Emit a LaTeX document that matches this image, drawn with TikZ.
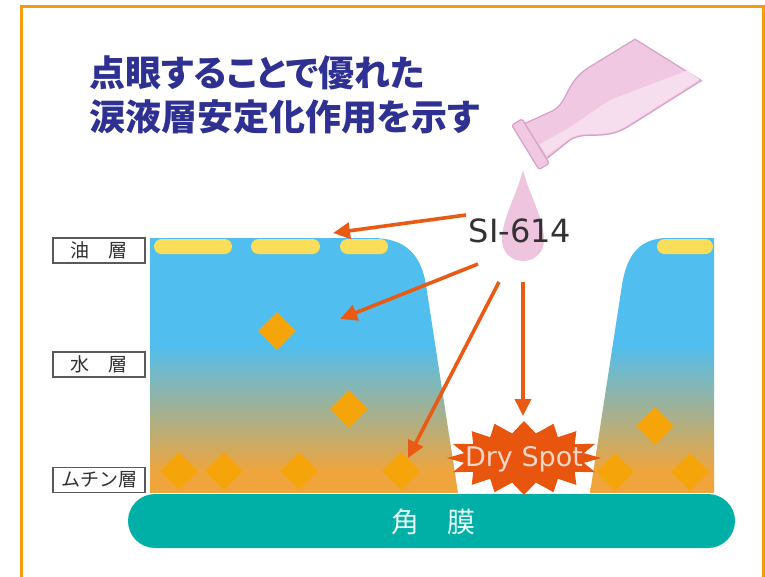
\documentclass[tikz,border=0pt]{standalone}
\usepackage{fontspec}
\setmainfont{DejaVu Sans}
\newfontfamily\jp{Noto Sans CJK JP}
\newfontfamily\jptitle{Noto Sans CJK JP}[RawFeature=+palt]
\newfontfamily\lat{DejaVu Sans}
\usetikzlibrary{arrows.meta,shapes.geometric}

\definecolor{framec}{RGB}{247,156,10}
\definecolor{titlec}{RGB}{46,49,146}
\definecolor{txt}{RGB}{50,50,50}
\definecolor{filmblue}{RGB}{80,190,238}
\definecolor{filmorange}{RGB}{240,165,60}
\definecolor{lipid}{RGB}{250,222,90}
\definecolor{mucin}{RGB}{245,165,10}
\definecolor{corneac}{RGB}{0,176,166}
\definecolor{arrowc}{RGB}{233,90,20}
\definecolor{burstc}{RGB}{232,85,15}
\definecolor{burstt}{RGB}{248,215,200}
\definecolor{bottlec}{RGB}{240,200,225}
\definecolor{bottlel}{RGB}{247,222,238}
\definecolor{bottled}{RGB}{215,160,200}
\definecolor{dropc}{RGB}{238,196,222}

% tear film: blue aqueous layer fading into the orange mucin layer
\pgfdeclareverticalshading{tearfilm}{100bp}{color(0bp)=(filmorange); color(29bp)=(filmorange); color(54bp)=(filmblue); color(100bp)=(filmblue)}

\tikzset{
  lab/.style={draw={rgb,255:red,90;green,90;blue,90}, line width=1.2, fill=white,
    minimum width=92, minimum height=25, inner sep=0, text=txt,
    font=\jp\fontsize{19}{19}\selectfont},
  titletext/.style={anchor=west, inner sep=0, text=titlec,
    font=\jptitle\bfseries\fontsize{36}{36}\selectfont},
  pill/.style={fill=lipid, rounded corners=7.5},
  gem/.style={diamond, fill=mucin, inner sep=0, minimum width=38, minimum height=38},
  ptr/.style={draw=arrowc, line width=3.6, -{Triangle[length=17,width=16]}},
  bottle/.style={fill=bottlec, draw=bottled, line width=1.2, line join=round},
}

\begin{document}
\begin{tikzpicture}[x=1pt,y=-1pt]
\useasboundingbox (0,0) rectangle (765,576);
\fill[white] (0,0) rectangle (765,576);

% outer frame
\draw[framec, line width=3] (21,6.5) rectangle (763,600);

% title
\node[titletext] (t1) at (89,72.5) {点眼することで優れた};
\node[titletext] (t2) at (89,116.5) {涙液層安定化作用を示す};

% tear film blocks
\shade[shading=tearfilm] (150,238) -- (372,238) .. controls (405,238) and (421,254) .. (426,285)
  -- (458,493) -- (150,493) -- cycle;
\shade[shading=tearfilm] (714,238) -- (668,238) .. controls (640,238) and (627,254) .. (622,285)
  -- (590,493) -- (714,493) -- cycle;

% lipid layer
\fill[pill] (154,239) rectangle (232,254);
\fill[pill] (251,239) rectangle (320,254);
\fill[pill] (340,239) rectangle (388,254);
\fill[pill] (657,239) rectangle (713,254);

% mucin particles
\node[gem] (d1) at (277,331) {};
\node[gem] (d2) at (349,409) {};
\node[gem] (d3) at (179,471) {};
\node[gem] (d4) at (224,471) {};
\node[gem] (d5) at (299,471) {};
\node[gem] (d6) at (401,471) {};
\node[gem] (d7) at (655,426) {};
\node[gem] (d8) at (615,472) {};
\node[gem] (d9) at (690,472) {};

% cornea
\fill[corneac, rounded corners=27] (128,494) rectangle (735,548);
\node[text={rgb,255:red,232;green,250;blue,246}, font=\jp\fontsize{28}{28}\selectfont] (cornea) at (433,522) {角　膜};

% layer labels
\node[lab] (oil) at (99,250.5) {油\hspace{1em}層};
\node[lab] (water) at (99,364.5) {水\hspace{1em}層};
\node[lab] (muc) at (99,480) {ムチン層};

% dry spot burst
\begin{scope}[shift={(524,458)}]
  \fill[burstc] (0:77 and 37)
    \foreach \i [evaluate=\i as \rx using {isodd(\i)?61:(mod(\i,8)==4?74:77)},
                 evaluate=\i as \ry using {isodd(\i)?25:(mod(\i,8)==4?38:37)}] in {1,...,31}
    { -- ({\i*11.25}:{\rx} and {\ry}) } -- cycle;
\end{scope}
\node[text=burstt, font=\lat\fontsize{27}{27}\selectfont, inner sep=0] (dry) at (524,459) {Dry Spot};

% eye-drop bottle
\begin{scope}[shift={(530.5,144.25)}, rotate=31.5]
  \filldraw[bottle] (4,-21) -- (36,-17) .. controls (55,-16) and (62,-35) .. (90,-35)
    -- (144,-35) -- (179,35) -- (92,36) .. controls (64,36) and (55,17) .. (36,17)
    -- (4,21) -- cycle;
  \fill[bottlel] (8,5) -- (40,6) .. controls (60,6) and (70,4) .. (92,4) -- (172,19)
    -- (178,33) -- (92,34.5) .. controls (64,34.5) and (55,15.5) .. (36,15.5) -- (8,18) -- cycle;
  \filldraw[bottle, rounded corners=1.5] (-6,-26) rectangle (6,26);
\end{scope}

% drop
\fill[dropc] (523,170) .. controls (528,192) and (544,218) .. (544,240)
  .. controls (544,252) and (535,261) .. (523,261)
  .. controls (511,261) and (502,252) .. (502,240)
  .. controls (502,218) and (518,192) .. (523,170) -- cycle;

\node[text=txt, font=\lat\fontsize{32}{32}\selectfont, inner sep=0] (si) at (520,231) {SI-614};

% arrows from the drug name
\coordinate (a1s) at (466,215); \coordinate (a1e) at (333,233);
\coordinate (a2s) at (478,264); \coordinate (a2e) at (340,319);
\coordinate (a3s) at (499,282); \coordinate (a3e) at (408,458);
\coordinate (a4s) at (523,282); \coordinate (a4e) at (523,416);
\draw[ptr] (a1s) -- (a1e);
\draw[ptr] (a2s) -- (a2e);
\draw[ptr] (a3s) -- (a3e);
\draw[ptr] (a4s) -- (a4e);
\end{tikzpicture}
\end{document}
